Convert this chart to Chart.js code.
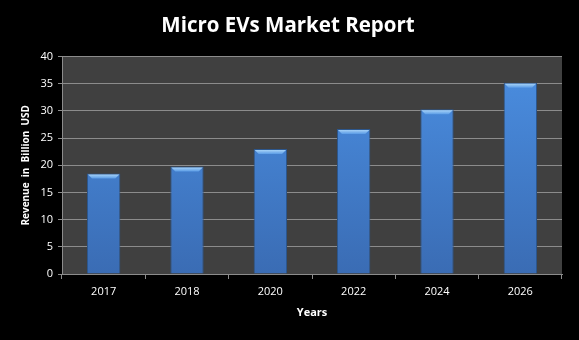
<!DOCTYPE html>
<html>
<head>
<meta charset="utf-8">
<script src="https://cdn.jsdelivr.net/npm/chart.js@4/dist/chart.umd.min.js"></script>
<style>
  html, body { margin: 0; padding: 0; background: #000; }
  #wrap { width: 579px; height: 340px; }
</style>
</head>
<body>
<div id="wrap"><canvas id="barChart" width="579" height="340"></canvas></div>
<script>
var years = ["2017", "2018", "2020", "2022", "2024", "2026"];
var revenue = [18.5, 19.8, 23.0, 26.7, 30.3, 35.2];
var yTicks = [0, 5, 10, 15, 20, 25, 30, 35, 40];

// dark plot area behind the bars
var plotBg = {
    id: "plotBg",
    beforeDraw: function (chart) {
        var a = chart.chartArea, ctx = chart.ctx;
        ctx.save();
        ctx.fillStyle = "#404040";
        ctx.fillRect(a.left, a.top, a.right - a.left, a.bottom - a.top);
        ctx.restore();
    }
};

// light bevel strip on top of each bar
var bevel = {
    id: "bevel",
    afterDatasetsDraw: function (chart) {
        var ctx = chart.ctx;
        chart.getDatasetMeta(0).data.forEach(function (bar) {
            var half = bar.width / 2;
            var l = bar.x - half + 1, r = bar.x + half - 1, t = bar.y + 1;
            var g = ctx.createLinearGradient(0, t, 0, t + 4);
            g.addColorStop(0, "#a6d2f7");
            g.addColorStop(1, "#5b9ce6");
            ctx.save();
            ctx.fillStyle = g;
            ctx.beginPath();
            ctx.moveTo(l, t);
            ctx.lineTo(r, t);
            ctx.lineTo(r - 4, t + 4);
            ctx.lineTo(l + 4, t + 4);
            ctx.closePath();
            ctx.fill();
            ctx.restore();
        });
    }
};

function barFill(context) {
    var chart = context.chart;
    var a = chart.chartArea;
    if (!a) return "#4480d0";
    var g = chart.ctx.createLinearGradient(0, a.top, 0, a.bottom);
    g.addColorStop(0, "#4b8fe2");
    g.addColorStop(1, "#3a6cb4");
    return g;
}

var ctx = document.getElementById("barChart").getContext("2d");
var chart = new Chart(ctx, {
    type: "bar",
    data: {
        labels: years,
        datasets: [{
            data: revenue,
            backgroundColor: barFill,
            borderColor: "#2c568c",
            borderWidth: 1,
            borderSkipped: "bottom",
            barPercentage: 0.8,
            categoryPercentage: 0.5
        }]
    },
    options: {
        responsive: false,
        animation: false,
        layout: { padding: { top: 4, right: 17, left: 14, bottom: 21 } },
        plugins: {
            legend: { display: false },
            tooltip: { enabled: false },
            title: {
                display: true,
                text: "Micro EVs Market Report",
                color: "#ffffff",
                font: { family: "'Open Sans'", size: 20.5, weight: "bold", lineHeight: 1.2 },
                padding: { top: 10, bottom: 18 }
            }
        },
        scales: {
            x: {
                grid: {
                    offset: true,
                    drawOnChartArea: false,
                    drawTicks: true,
                    tickLength: 5,
                    color: "#8c8c8c"
                },
                border: { color: "#8c8c8c", width: 1 },
                ticks: {
                    color: "#ffffff",
                    font: { family: "'Open Sans'", size: 11 },
                    padding: 6
                },
                title: {
                    display: true,
                    text: "Years",
                    color: "#ffffff",
                    font: { family: "'Open Sans'", size: 11, weight: "bold" },
                    padding: { top: 4, bottom: 0 }
                },
                afterFit: function (scale) { scale.height = 45; }
            },
            y: {
                min: 0,
                max: 40,
                afterBuildTicks: function (scale) {
                    scale.ticks = yTicks.map(function (v) { return { value: v }; });
                },
                grid: {
                    color: "#8c8c8c",
                    tickLength: 4,
                    lineWidth: 1
                },
                border: { color: "#8c8c8c", width: 1 },
                ticks: {
                    color: "#ffffff",
                    font: { family: "'Open Sans'", size: 11 },
                    padding: 5
                },
                title: {
                    display: true,
                    text: "Revenue  in  Billion  USD",
                    color: "#ffffff",
                    font: { family: "'Open Sans'", size: 10, weight: "bold" },
                    padding: { top: 6, bottom: 4 }
                },
                afterFit: function (scale) { scale.width = 48; }
            }
        }
    },
    plugins: [plotBg, bevel]
});
</script>
</body>
</html>
